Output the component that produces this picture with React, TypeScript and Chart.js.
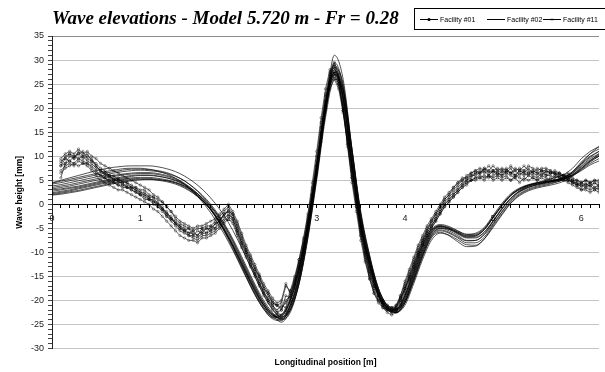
import { useEffect, useRef } from "react";
import { Chart, registerables } from "chart.js";

Chart.register(...registerables);

const titleText = "Wave elevations - Model 5.720 m - Fr = 0.28";
const xAxisTitle = "Longitudinal position [m]";
const yAxisTitle = "Wave height [mm]";
const legendNames = ["Facility #01", "Facility #02", "Facility #11"];

// Measured cuts (Facility #01), sampled every 0.05 m
const xMeasured = [
  0.1, 0.15, 0.2, 0.25, 0.3, 0.35, 0.4, 0.45, 0.5, 0.55,
  0.6, 0.65, 0.7, 0.75, 0.8, 0.85, 0.9, 0.95, 1.0, 1.05,
  1.1, 1.15, 1.2, 1.25, 1.3, 1.35, 1.4, 1.45, 1.5, 1.55,
  1.6, 1.65, 1.7, 1.75, 1.8, 1.85, 1.9, 1.95, 2.0, 2.05,
  2.1, 2.15, 2.2, 2.25, 2.3, 2.35, 2.4, 2.45, 2.5, 2.55,
  2.6, 2.65, 2.7, 2.75, 2.8, 2.85, 2.9, 2.95, 3.0, 3.05,
  3.1, 3.15, 3.2, 3.25, 3.3, 3.35, 3.4, 3.45, 3.5, 3.55,
  3.6, 3.65, 3.7, 3.75, 3.8, 3.85, 3.9, 3.95, 4.0, 4.05,
  4.1, 4.15, 4.2, 4.25, 4.3, 4.35, 4.4, 4.45, 4.5, 4.55,
  4.6, 4.65, 4.7, 4.75, 4.8, 4.85, 4.9, 4.95, 5.0, 5.05,
  5.1, 5.15, 5.2, 5.25, 5.3, 5.35, 5.4, 5.45, 5.5, 5.55,
  5.6, 5.65, 5.7, 5.75, 5.8, 5.85, 5.9, 5.95, 6.0, 6.05,
  6.1, 6.15, 6.2,
];

const f01Run1 = [
  8.5, 10, 10.5, 9.5, 11, 10, 10.5, 9, 8, 7,
  6.5, 6, 5, 5.5, 4.5, 4.5, 3.5, 3.5, 2.5, 2.5,
  1.5, 1.5, 0, -0.5, -2, -2.5, -4, -4.5, -5.5, -5,
  -6.5, -5.5, -6, -5, -5.5, -4, -3.5, -2, -1.5, -3,
  -5.5, -8, -10, -12, -14.5, -16, -18.5, -19.5, -21, -22,
  -21, -21.5, -18, -16, -11.5, -7, -2, 4.5, 11, 18,
  24, 28, 29, 26, 19.5, 12, 4.5, -1.5, -7.5, -12,
  -15.5, -18.5, -20, -21.5, -22, -22.5, -21, -19, -16, -13.5,
  -11, -8.5, -6.5, -4.5, -3, -1.5, 0, 1.5, 2.5, 3.5,
  4.5, 5.5, 5.5, 6.5, 7, 6.5, 7.5, 6.5, 7, 6,
  7, 6.5, 7.5, 6, 7, 6.5, 7.5, 6.5, 6, 7,
  6.5, 7, 6, 6.5, 5.5, 5.5, 4.5, 4.5, 3.5, 4.5,
  3.5, 4.5, 4,
];

const f01Run2 = [
  5.5, 8.5, 9, 8.5, 9.5, 9, 8.5, 8, 7, 6,
  5.5, 5, 4.5, 4, 4, 3.5, 3, 2.5, 2, 1.5,
  1, 0.5, 0, -1, -2, -3, -4, -5, -5.5, -6.5,
  -6.5, -7, -6, -6, -5.5, -5, -4, -3, -2, -3,
  -5.5, -8, -10, -12.5, -14, -16.5, -18, -20, -21, -22.5,
  -22, -19, -19.5, -16.5, -13, -9, -4, 2, 8, 14.5,
  21, 25, 26.5, 24.5, 19.5, 13.5, 7, 1, -5, -10,
  -14, -17, -19, -20.5, -21, -21.5, -21.5, -20, -17.5, -15,
  -12.5, -10, -8, -6, -4.5, -3, -1.5, 0, 1, 2,
  3, 4, 4.5, 5, 5.5, 6, 5.5, 6, 5.5, 6,
  5.5, 6, 5, 6, 5.5, 5, 6, 5.5, 5, 6,
  5.5, 5, 6, 5.5, 5.5, 5, 4.5, 4, 3, 3.5,
  3, 3.5, 3,
];

const f01Run3 = [
  9, 9.5, 10.5, 10, 10.5, 11, 9.5, 9, 8.5, 7.5,
  7, 6, 6, 5, 5, 4.5, 4, 3.5, 3, 3,
  2, 1.5, 1, 0.5, -0.5, -1.5, -3, -4, -4.5, -5,
  -5.5, -5, -5, -4.5, -4.5, -3.5, -2.5, -1.5, -0.5, -2,
  -4, -6.5, -9, -11, -13, -15, -17, -18.5, -20, -21,
  -21.5, -20.5, -19, -16, -12.5, -8.5, -3.5, 2, 8, 15,
  21.5, 27, 29.5, 27, 21, 14, 7, 0.5, -5.5, -10,
  -14, -17, -19, -20.5, -21.5, -22, -22, -20, -17.5, -15,
  -12.5, -10, -7.5, -5.5, -3.5, -2, -0.5, 1, 2, 3.5,
  4.5, 5, 6, 6.5, 7, 7.5, 7, 8, 7, 7.5,
  7, 7.5, 6.5, 7.5, 7, 8, 7, 6.5, 7.5, 7,
  7, 6.5, 7, 6.5, 6, 6.5, 5.5, 5, 4.5, 5,
  4.5, 5, 4.5,
];

const f01Run4 = [
  7, 8, 8.5, 8, 9, 8.5, 8.5, 7.5, 6.5, 6,
  5.5, 4.5, 4.5, 4, 3.5, 3.5, 3, 2.5, 2, 1,
  1, 0, -0.5, -1.5, -2.5, -3.5, -4.5, -5.5, -6, -6.5,
  -7, -7.5, -6.5, -6.5, -6, -5.5, -4.5, -3.5, -2.5, -3.5,
  -6, -8.5, -10.5, -12.5, -14.5, -16.5, -18.5, -20, -21.5, -22.5,
  -23, -22, -20, -17, -13.5, -9.5, -4.5, 1, 7, 13.5,
  20, 24.5, 27, 25, 20.5, 14, 7.5, 1.5, -4.5, -9,
  -13.5, -16.5, -19, -20.5, -21.5, -21.5, -21, -19.5, -17.5, -15.5,
  -13, -10.5, -8.5, -6.5, -5, -3.5, -2, -0.5, 0.5, 1.5,
  2.5, 3.5, 4.5, 5, 5.5, 5.5, 6, 5.5, 6, 6.5,
  6, 6.5, 6, 5.5, 6.5, 6, 6.5, 6, 5.5, 6.5,
  6, 6, 5.5, 6, 5, 5, 4.5, 4, 4, 3.5,
  4, 3, 3.5,
];

const f01Run5 = [
  8, 9.5, 9, 10, 9.5, 10, 9, 8.5, 7.5, 7,
  6, 6, 5, 5, 4, 4, 3.5, 3, 2.5, 2,
  1.5, 0.5, 0.5, -1, -1.5, -3, -3.5, -4.5, -5, -6,
  -5.5, -6.5, -5, -6, -4.5, -5, -3, -2.5, -1, -2.5,
  -4.5, -7, -9.5, -11.5, -13.5, -15, -17.5, -18.5, -20.5, -21,
  -20.5, -17, -18, -15, -11.5, -7.5, -2.5, 3.5, 10, 17,
  23, 27.5, 28.5, 25.5, 19.5, 12.5, 5.5, -0.5, -6.5, -11,
  -15, -18, -20, -21, -22, -22.5, -21.5, -19, -16.5, -14,
  -11.5, -9, -7, -5, -3.5, -2, -0.5, 1, 2, 3,
  4, 5, 5.5, 6, 6.5, 7, 6.5, 7, 6.5, 7,
  6.5, 7, 6.5, 7, 6, 7, 6.5, 7, 6.5, 6,
  7, 6.5, 6.5, 6, 6, 5, 5, 4.5, 4, 4,
  4.5, 3.5, 4,
];

const f01Run6 = [
  8, 8.5, 10, 9.5, 10.5, 9.5, 10, 9.5, 8, 7,
  6.5, 5.5, 5.5, 4.5, 4.5, 3.5, 3.5, 3, 2, 2,
  1, 1, -0.5, -1, -2.5, -3, -4, -5, -5.5, -6,
  -6, -6.5, -5.5, -5, -5, -4, -3.5, -2, -1.5, -2,
  -5, -7.5, -9.5, -11.5, -13.5, -15.5, -17.5, -19, -20.5, -21,
  -22, -20, -19, -15.5, -12, -8, -3, 3, 9, 16,
  22.5, 26, 27.5, 25, 20, 13, 6, 0, -6, -10.5,
  -14.5, -17.5, -19.5, -21, -21.5, -22, -21.5, -19.5, -17, -14.5,
  -12, -9.5, -7.5, -5.5, -4, -2.5, -1, 0.5, 1.5, 2.5,
  3.5, 4.5, 5, 6, 6, 6.5, 7, 6, 7, 6.5,
  6, 7, 6.5, 6, 7, 6.5, 6, 7, 6.5, 7,
  6, 6.5, 6.5, 5.5, 6, 5.5, 5, 4, 4.5, 4,
  4, 4.5, 3.5,
];

const f01Run7 = [
  9.5, 10.5, 11, 10.5, 11.5, 10.5, 11, 10, 9.5, 8.5,
  8, 7.5, 7, 6.5, 6, 5.5, 5, 4.5, 4, 3.5,
  3, 2, 1.5, 0.5, -0.5, -1.5, -2.5, -3.5, -4, -4.5,
  -5, -4.5, -4.5, -4, -3.5, -3, -2, -1, 0, -1.5,
  -3.5, -6, -8.5, -10.5, -12.5, -14.5, -16.5, -18, -19.5, -20.5,
  -20, -16.5, -18.5, -16.5, -13, -9, -4, 1.5, 7.5, 14,
  20.5, 25.5, 27.5, 26, 21.5, 15, 8, 2, -4, -9,
  -13, -16, -18.5, -20, -21, -21.5, -22, -21, -18.5, -16,
  -13.5, -11, -8.5, -6.5, -5, -3.5, -2, -0.5, 0.5, 1.5,
  2.5, 3.5, 4, 5, 5, 5.5, 5, 6, 5, 5.5,
  5, 5.5, 5, 5.5, 4.5, 5.5, 5, 5.5, 5, 5.5,
  5, 5.5, 5, 5, 5, 4.5, 4, 3.5, 3, 3,
  2.5, 3, 2.5,
];

const f01Run8 = [
  6.5, 7.5, 8, 8.5, 8, 8.5, 8, 7, 6, 5,
  4.5, 4, 3.5, 3, 3, 2.5, 2, 1.5, 1, 0.5,
  0, -1, -1.5, -2.5, -3.5, -4.5, -5.5, -6.5, -7, -7.5,
  -7.5, -8, -7, -7, -6.5, -6, -5, -4, -3, -4,
  -6.5, -9, -11, -13, -15, -17, -19, -20.5, -22, -23,
  -23.5, -22.5, -20.5, -17.5, -14, -10, -5, 0.5, 6.5, 13,
  19.5, 24, 26, 24, 19, 12.5, 5.5, -0.5, -6.5, -11.5,
  -15.5, -18.5, -20.5, -21.5, -22.5, -23, -22.5, -20.5, -18, -15.5,
  -13, -10.5, -8, -6, -4.5, -3, -1.5, 0, 1, 2,
  3, 4, 5, 5.5, 6.5, 6.5, 7.5, 7, 8, 7,
  7.5, 7, 8, 7, 7.5, 7, 8, 7.5, 7, 7.5,
  7.5, 7, 6.5, 6.5, 6, 6, 5, 5, 4.5, 5,
  4.5, 5, 5,
];

// Smoothed cuts (Facility #02 and #11), sampled every 0.1 m
const xSmooth = [
  0, 0.1, 0.2, 0.3, 0.4, 0.5, 0.6, 0.7, 0.8, 0.9,
  1.0, 1.1, 1.2, 1.3, 1.4, 1.5, 1.6, 1.7, 1.8, 1.9,
  2.0, 2.1, 2.2, 2.3, 2.4, 2.5, 2.6, 2.7, 2.8, 2.9,
  3.0, 3.1, 3.2, 3.3, 3.4, 3.5, 3.6, 3.7, 3.8, 3.9,
  4.0, 4.1, 4.2, 4.3, 4.4, 4.5, 4.6, 4.7, 4.8, 4.9,
  5.0, 5.1, 5.2, 5.3, 5.4, 5.5, 5.6, 5.7, 5.8, 5.9,
  6.0, 6.1, 6.2,
];

const f02Run1 = [
  4.5, 5.0, 5.5, 6.0, 6.5, 7.0, 7.4, 7.7, 7.9, 8.0,
  8.0, 8.0, 7.8, 7.4, 6.8, 5.9, 4.7, 3.2, 1.3, -1.0,
  -3.8, -7.2, -11.0, -15.0, -18.8, -21.8, -23.4, -22.0, -16.5, -7.0,
  5.5, 19.0, 27.5, 24.0, 11.0, -2.0, -11.0, -17.5, -21.0, -22.0,
  -20.0, -15.5, -10.5, -6.5, -5.0, -5.2, -6.0, -6.8, -6.8, -5.8,
  -3.5, -1.0, 1.2, 2.8, 3.8, 4.5, 5.0, 5.5, 6.2, 7.5,
  9.5, 11.0, 12.0,
];

const f02Run2 = [
  4.2, 4.5, 4.9, 5.3, 5.7, 6.1, 6.5, 6.8, 7.1, 7.3,
  7.3, 7.2, 7.0, 6.6, 5.9, 4.9, 3.5, 1.8, -0.3, -2.9,
  -6.0, -9.6, -13.5, -17.2, -20.5, -22.8, -23.8, -21.5, -15.5, -5.5,
  7.5, 21.0, 29.5, 24.5, 10.0, -3.5, -12.0, -18.5, -21.8, -22.5,
  -20.0, -15.0, -10.0, -6.2, -5.0, -5.5, -6.5, -7.5, -7.5, -6.3,
  -4.0, -1.5, 0.8, 2.5, 3.5, 4.2, 4.6, 5.0, 5.6, 6.8,
  8.5, 10.0, 11.0,
];

const f02Run3 = [
  3.8, 4.1, 4.5, 4.9, 5.3, 5.7, 6.1, 6.5, 6.8, 7.0,
  7.1, 7.0, 6.8, 6.4, 5.8, 4.9, 3.6, 2.0, 0.0, -2.5,
  -5.5, -9.0, -12.8, -16.6, -20.0, -22.5, -24.0, -22.5, -16.5, -6.5,
  6.0, 19.5, 31.0, 26.0, 11.5, -2.5, -11.5, -18.0, -21.5, -22.5,
  -20.5, -16.0, -11.0, -7.0, -5.8, -6.5, -7.8, -8.8, -8.7, -7.2,
  -4.5, -2.0, 0.3, 2.0, 3.0, 3.6, 4.0, 4.5, 5.2, 6.5,
  8.5, 10.5, 12.0,
];

const f02Run4 = [
  3.5, 3.8, 4.1, 4.5, 4.9, 5.3, 5.7, 6.0, 6.3, 6.5,
  6.6, 6.6, 6.4, 6.0, 5.4, 4.4, 3.0, 1.3, -0.9, -3.7,
  -7.0, -10.8, -14.8, -18.5, -21.5, -23.3, -23.2, -20.0, -13.5, -4.0,
  8.0, 20.5, 28.0, 22.5, 8.5, -4.5, -12.5, -19.0, -22.0, -22.0,
  -19.0, -14.0, -9.0, -5.5, -4.5, -5.0, -6.0, -6.8, -6.6, -5.3,
  -2.8, -0.3, 1.8, 3.0, 3.8, 4.2, 4.5, 4.8, 5.3, 6.2,
  7.5, 9.0, 10.0,
];

const f02Run5 = [
  3.2, 3.5, 3.8, 4.2, 4.6, 5.0, 5.4, 5.8, 6.1, 6.3,
  6.4, 6.4, 6.2, 5.8, 5.2, 4.2, 2.8, 1.0, -1.2, -4.0,
  -7.4, -11.2, -15.0, -18.8, -21.8, -23.6, -23.0, -19.5, -13.0, -3.5,
  8.5, 21.5, 28.5, 22.5, 8.0, -5.0, -13.0, -19.0, -21.8, -21.8,
  -19.0, -13.5, -8.5, -5.2, -4.2, -4.6, -5.5, -6.2, -6.0, -4.8,
  -2.3, 0.2, 2.2, 3.4, 4.1, 4.5, 4.8, 5.0, 5.4, 6.0,
  7.0, 8.2, 9.0,
];

const f02Run6 = [
  3.0, 3.2, 3.5, 3.8, 4.2, 4.6, 5.0, 5.4, 5.7, 6.0,
  6.1, 6.1, 5.9, 5.5, 4.9, 4.0, 2.7, 1.0, -1.1, -3.8,
  -7.0, -10.6, -14.4, -18.0, -21.0, -23.0, -23.5, -21.0, -15.0, -5.5,
  6.5, 19.5, 27.0, 23.5, 10.0, -3.0, -11.5, -18.0, -21.5, -22.2,
  -20.0, -15.0, -10.0, -6.0, -4.8, -5.2, -6.2, -7.0, -7.0, -5.8,
  -3.4, -0.8, 1.3, 2.7, 3.5, 4.0, 4.4, 4.8, 5.3, 6.2,
  7.8, 9.2, 10.2,
];

const f02Run7 = [
  2.7, 3.0, 3.3, 3.6, 4.0, 4.4, 4.8, 5.2, 5.5, 5.8,
  6.0, 6.0, 5.8, 5.5, 5.0, 4.2, 3.0, 1.4, -0.6, -3.2,
  -6.4, -10.0, -13.8, -17.5, -20.8, -23.0, -24.5, -22.0, -16.0, -6.0,
  6.0, 19.0, 28.5, 25.0, 11.5, -2.0, -10.8, -17.5, -21.0, -22.5,
  -20.5, -15.8, -10.8, -6.8, -5.5, -6.0, -7.0, -8.0, -8.0, -6.8,
  -4.2, -1.6, 0.6, 2.2, 3.2, 3.8, 4.2, 4.6, 5.1, 6.0,
  7.5, 9.0, 10.5,
];

const f11Run1 = [
  2.4, 2.7, 3.0, 3.4, 3.8, 4.2, 4.6, 5.0, 5.3, 5.5,
  5.6, 5.6, 5.4, 5.1, 4.6, 3.8, 2.6, 1.0, -1.0, -3.6,
  -6.8, -10.4, -14.2, -17.8, -21.0, -23.2, -23.6, -21.0, -15.0, -5.0,
  7.5, 20.5, 27.5, 22.0, 8.5, -4.0, -12.0, -18.5, -21.6, -22.0,
  -19.5, -14.5, -9.5, -5.8, -4.6, -5.0, -5.8, -6.5, -6.4, -5.2,
  -2.8, -0.3, 1.8, 3.2, 4.0, 4.5, 4.8, 5.1, 5.6, 6.5,
  8.0, 9.5, 10.5,
];

const f11Run2 = [
  2.2, 2.5, 2.8, 3.2, 3.6, 4.0, 4.4, 4.8, 5.1, 5.3,
  5.4, 5.4, 5.2, 4.9, 4.4, 3.6, 2.4, 0.8, -1.2, -3.8,
  -7.0, -10.6, -14.4, -18.2, -21.4, -23.5, -24.0, -21.5, -15.5, -5.8,
  6.8, 20.0, 29.0, 24.0, 10.5, -3.0, -11.5, -18.0, -21.5, -22.5,
  -20.5, -15.5, -10.5, -6.5, -5.3, -5.8, -6.8, -7.6, -7.5, -6.2,
  -3.6, -1.0, 1.2, 2.7, 3.6, 4.1, 4.5, 4.9, 5.5, 6.8,
  8.8, 10.5, 11.5,
];

const f11Run3 = [
  2.0, 2.3, 2.6, 2.9, 3.3, 3.7, 4.1, 4.5, 4.8, 5.1,
  5.2, 5.2, 5.0, 4.7, 4.2, 3.4, 2.3, 0.8, -1.1, -3.6,
  -6.7, -10.2, -14.0, -17.8, -21.0, -23.0, -23.0, -20.0, -14.0, -4.5,
  7.8, 21.0, 28.0, 22.0, 8.0, -4.5, -12.5, -18.8, -21.8, -21.8,
  -19.0, -14.0, -9.0, -5.5, -4.4, -4.8, -5.6, -6.3, -6.2, -5.0,
  -2.6, -0.1, 2.0, 3.2, 3.9, 4.3, 4.6, 4.9, 5.3, 6.0,
  7.2, 8.5, 9.5,
];

const f11Run4 = [
  4.4, 4.8, 5.2, 5.6, 6.0, 6.4, 6.8, 7.1, 7.4, 7.5,
  7.5, 7.3, 6.9, 6.3, 5.4, 4.2, 2.6, 0.6, -1.8, -4.6,
  -7.8, -11.4, -15.2, -18.8, -21.8, -23.8, -24.2, -21.0, -14.5, -4.5,
  7.0, 20.0, 27.0, 22.5, 9.0, -4.0, -12.5, -18.8, -22.0, -22.3,
  -19.5, -14.5, -9.5, -5.8, -4.6, -5.0, -5.8, -6.6, -6.5, -5.2,
  -2.7, -0.2, 1.9, 3.2, 4.0, 4.4, 4.7, 5.0, 5.5, 6.6,
  8.3, 9.8, 11.0,
];

const f11Run5 = [
  1.9, 2.1, 2.4, 2.7, 3.1, 3.5, 3.9, 4.3, 4.6, 4.9,
  5.1, 5.2, 5.1, 4.9, 4.5, 3.8, 2.8, 1.4, -0.4, -2.8,
  -5.8, -9.4, -13.2, -17.0, -20.4, -22.8, -23.8, -22.0, -16.5, -7.0,
  5.0, 18.0, 26.0, 23.5, 11.5, -1.5, -10.5, -17.5, -21.2, -22.5,
  -21.0, -16.5, -11.5, -7.5, -6.0, -6.4, -7.4, -8.4, -8.5, -7.2,
  -4.8, -2.2, 0.2, 1.8, 2.8, 3.4, 3.8, 4.2, 4.8, 5.8,
  7.3, 8.8, 10.0,
];

const facility01 = [f01Run1, f01Run2, f01Run3, f01Run4, f01Run5, f01Run6, f01Run7, f01Run8];
const facility02 = [f02Run1, f02Run2, f02Run3, f02Run4, f02Run5, f02Run6, f02Run7];
const facility11 = [f11Run1, f11Run2, f11Run3, f11Run4, f11Run5];

const AXIS_FONT = '"Liberation Sans", Arial, sans-serif';

function toPoints(xs: number[], ys: number[]) {
  return xs.map((x, i) => ({ x, y: ys[i] }));
}

function LegendSample({ marker }: { marker: "dot" | "none" | "dash" }) {
  return (
    <svg width={18} height={7} style={{ display: "block" }}>
      <line x1={0} y1={3.5} x2={18} y2={3.5} stroke="#000" strokeWidth={1} />
      {marker === "dot" && <circle cx={9} cy={3.5} r={1.6} fill="#000" />}
      {marker === "dash" && <rect x={7.5} y={2.8} width={3} height={1.4} fill="#000" />}
    </svg>
  );
}

export default function App() {
  const canvasRef = useRef<HTMLCanvasElement | null>(null);

  useEffect(() => {
    const canvas = canvasRef.current;
    if (!canvas) return;

    const measuredSets = facility01.map((ys, i) => ({
      label: legendNames[0] + " run " + (i + 1),
      data: toPoints(xMeasured, ys),
      borderColor: "rgba(0,0,0,0.85)",
      borderWidth: 0.7,
      tension: 0,
      pointRadius: 1.2,
      pointStyle: "circle" as const,
      pointBorderColor: "rgba(0,0,0,0.75)",
      pointBorderWidth: 0.5,
      pointBackgroundColor: "rgba(255,255,255,0)",
    }));

    const smoothStyle = {
      borderColor: "rgba(0,0,0,0.85)",
      borderWidth: 0.8,
      pointRadius: 0,
      cubicInterpolationMode: "monotone" as const,
    };

    const smoothSets = [
      ...facility02.map((ys, i) => ({
        label: legendNames[1] + " run " + (i + 1),
        data: toPoints(xSmooth, ys),
        ...smoothStyle,
      })),
      ...facility11.map((ys, i) => ({
        label: legendNames[2] + " run " + (i + 1),
        data: toPoints(xSmooth, ys),
        ...smoothStyle,
      })),
    ];

    const chart = new Chart(canvas, {
      type: "line",
      data: { datasets: [...smoothSets, ...measuredSets] },
      options: {
        animation: false,
        responsive: false,
        events: [],
        layout: { padding: { top: 36, right: 1, bottom: 0, left: 0 } },
        plugins: {
          legend: { display: false },
          title: { display: false },
          tooltip: { enabled: false },
        },
        scales: {
          x: {
            type: "linear",
            position: { y: 0 },
            min: 0,
            max: 6.2,
            ticks: {
              stepSize: 0.1,
              autoSkip: false,
              maxRotation: 0,
              padding: 6,
              color: "#222",
              font: { family: AXIS_FONT, size: 9 },
              callback: (v) => {
                const n = Number(v);
                return Math.abs(n - Math.round(n)) < 1e-6 ? String(Math.round(n)) : "";
              },
            },
            grid: {
              drawOnChartArea: false,
              tickLength: 3,
              tickColor: "#000",
              tickWidth: 1,
            },
            border: { display: true, color: "#000", width: 1 },
          },
          xb: {
            type: "linear",
            position: "bottom",
            min: 0,
            max: 6.2,
            ticks: { display: false },
            grid: { display: false, drawTicks: false, tickLength: 0 },
            border: { display: false },
            title: {
              display: true,
              text: xAxisTitle,
              color: "#000",
              font: { family: AXIS_FONT, size: 8.5, weight: "bold" },
              padding: { top: 8.6, bottom: 4.6 },
            },
          },
          y: {
            type: "linear",
            position: "left",
            min: -30,
            max: 35,
            afterFit: (scale) => {
              scale.width = 52;
            },
            ticks: {
              stepSize: 1,
              autoSkip: false,
              padding: 4,
              color: "#222",
              font: { family: AXIS_FONT, size: 9 },
              callback: (v) => {
                const n = Math.round(Number(v));
                return n % 5 === 0 ? String(n) : "";
              },
            },
            grid: {
              color: (ctx) => {
                const n = Math.round(ctx.tick ? ctx.tick.value : 1);
                if (n === 0 || n % 5 !== 0) return "rgba(0,0,0,0)";
                return n === 35 ? "#8c8c8c" : "#c4c4c4";
              },
              lineWidth: 1,
              tickLength: 4,
              tickColor: "#444",
            },
            border: { display: true, color: "#222", width: 1 },
            title: {
              display: true,
              text: yAxisTitle,
              color: "#000",
              font: { family: AXIS_FONT, size: 8.5, weight: "bold" },
              padding: { top: 15, bottom: 0 },
            },
          },
        },
      },
    });

    return () => {
      chart.destroy();
    };
  }, []);

  return (
    <div
      style={{
        position: "fixed",
        left: 0,
        top: 0,
        width: 605,
        height: 372,
        background: "#fff",
        overflow: "hidden",
      }}
    >
      <canvas
        ref={canvasRef}
        width={605}
        height={372}
        style={{ position: "absolute", left: 0, top: 0, width: 605, height: 372 }}
      />
      <div
        style={{
          position: "absolute",
          left: 52,
          top: 6,
          font: 'italic bold 19px "Liberation Serif", "Times New Roman", serif',
          lineHeight: "24px",
          whiteSpace: "nowrap",
          color: "#000",
        }}
      >
        {titleText}
      </div>
      <div
        style={{
          position: "absolute",
          left: 414,
          top: 8,
          width: 200,
          height: 22,
          border: "1px solid #000",
          background: "#fff",
          boxSizing: "border-box",
        }}
      >
        {legendNames.map((name, i) => (
          <div
            key={name}
            style={{
              position: "absolute",
              left: [5, 72, 128][i],
              top: 0,
              height: 20,
              display: "flex",
              alignItems: "center",
              whiteSpace: "nowrap",
            }}
          >
            <LegendSample marker={i === 0 ? "dot" : i === 1 ? "none" : "dash"} />
            <span
              style={{
                marginLeft: 2,
                font: '7px "Liberation Sans", Arial, sans-serif',
                color: "#000",
              }}
            >
              {name}
            </span>
          </div>
        ))}
      </div>
    </div>
  );
}
